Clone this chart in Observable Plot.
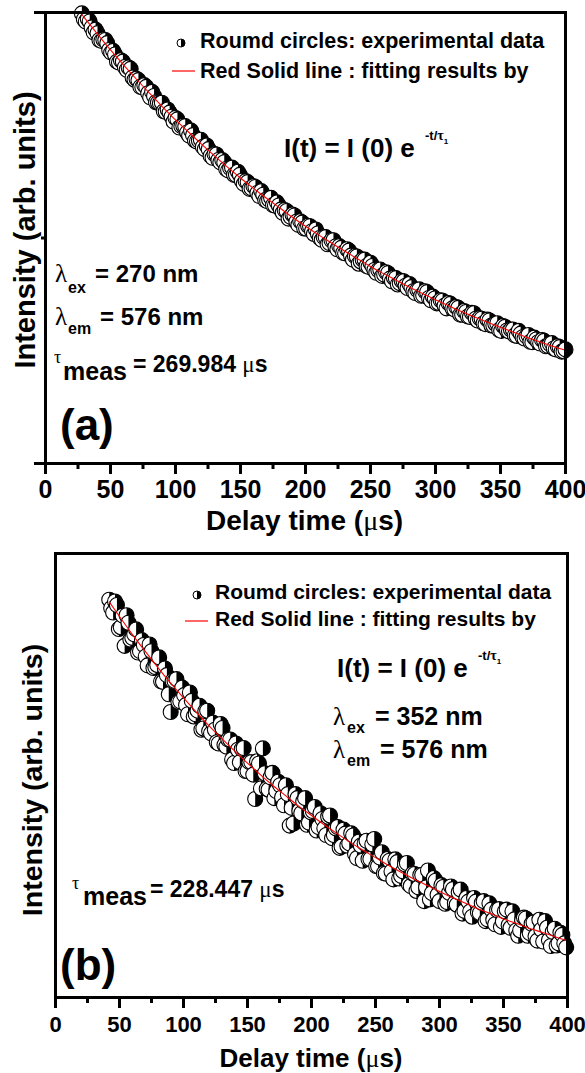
<!DOCTYPE html>
<html><head><meta charset="utf-8">
<script src="https://cdn.jsdelivr.net/npm/d3@7"></script>
<script src="https://cdn.jsdelivr.net/npm/@observablehq/plot@0.6"></script>
<style>
body{margin:0;background:#fff;}
#wrap{position:relative;width:585px;height:1073px;background:#fff;overflow:hidden;}
#wrap svg{position:absolute;left:0;}
</style></head><body><div id="wrap"></div>
<script>
// ---- data ----
const xTicks = [0,50,100,150,200,250,300,350,400];
const xMinor = [25,75,125,175,225,275,325,375];

// panel (a): delay time (µs) and intensity (arb. units, 0-1000)
const tA = [28,31,34,37,40,43,46,49,52,55,58,61,64,67,70,73,76,79,82,85,88,91,94,97,100,103,106,109,112,115,118,121,124,127,130,133,136,139,142,145,148,151,154,157,160,163,166,169,172,175,178,181,184,187,190,193,196,199,202,205,208,211,214,217,220,223,226,229,232,235,238,241,244,247,250,253,256,259,262,265,268,271,274,277,280,283,286,289,292,295,298,301,304,307,310,313,316,319,322,325,328,331,334,337,340,343,346,349,352,355,358,361,364,367,370,373,376,379,382,385,388,391,394,397,400];
const iA = [998,980,980,956,954,937,939,917,915,891,894,879,878,856,853,835,839,821,824,801,799,781,785,769,766,745,749,734,738,716,716,702,705,682,686,673,673,653,655,640,647,627,626,609,615,600,604,584,585,573,579,563,562,543,552,536,537,521,527,515,519,500,502,486,495,481,482,467,475,461,460,443,452,438,445,429,429,416,424,410,412,397,405,394,398,382,385,372,382,367,370,355,362,350,356,344,347,330,338,326,334,321,322,311,319,306,310,296,305,295,297,284,294,280,282,270,279,269,274,260,265,255,260,248,253];
// in-between readings of panel (a)
const tAmid = [29.5,32.5,35.5,38.5,41.5,44.5,47.5,50.5,53.5,56.5,59.5,62.5,65.5,68.5,71.5,74.5,77.5,80.5,83.5,86.5,89.5,92.5,95.5,98.5,101.5,104.5,107.5,110.5,113.5,116.5,119.5,122.5,125.5,128.5,131.5,134.5,137.5,140.5,143.5,146.5,149.5,152.5,155.5,158.5,161.5,164.5,167.5,170.5,173.5,176.5,179.5,182.5,185.5,188.5,191.5,194.5,197.5,200.5,203.5,206.5,209.5,212.5,215.5,218.5,221.5,224.5,227.5,230.5,233.5,236.5,239.5,242.5,245.5,248.5,251.5,254.5,257.5,260.5,263.5,266.5,269.5,272.5,275.5,278.5,281.5,284.5,287.5,290.5,293.5,296.5,299.5,302.5,305.5,308.5,311.5,314.5,317.5,320.5,323.5,326.5,329.5,332.5,335.5,338.5,341.5,344.5,347.5,350.5,353.5,356.5,359.5,362.5,365.5,368.5,371.5,374.5,377.5,380.5,383.5,386.5,389.5,392.5,395.5,398.5];
const iAmid = [985,986,967,962,939,940,932,911,907,889,891,873,875,851,850,834,835,812,815,800,800,780,778,758,763,748,748,727,728,714,718,697,697,678,685,668,668,650,656,640,640,620,624,610,613,593,596,582,589,572,572,556,560,547,550,529,534,521,526,509,510,496,502,489,495,475,478,466,472,452,459,448,452,436,438,423,430,419,422,404,411,400,404,389,391,378,386,373,380,362,366,356,361,344,354,342,345,330,336,325,333,317,321,309,317,306,311,294,303,293,297,283,288,277,285,269,275,266,272,261,267,253,258,249];
const tFitA = [28,30,40,50,60,70,80,90,100,110,120,130,140,150,160,170,180,190,200,210,220,230,240,250,260,270,280,290,300,310,320,330,340,350,360,370,380,390,400];
const fitA = [995,988,952,917,884,852,821,791,762,735,708,682,657,633,610,588,567,546,526,507,489,471,454,437,421,406,391,377,363,350,337,325,313,302,291,280,270,260,251];

// panel (b)
const tB = [42,45,48,51,54,57,60,63,66,69,72,75,78,81,84,87,90,93,96,99,102,105,108,111,114,117,120,123,126,129,132,135,138,141,144,147,150,153,156,159,162,165,168,171,174,177,180,183,186,189,192,195,198,201,204,207,210,213,216,219,222,225,228,231,234,237,240,243,246,249,252,255,258,261,264,267,270,273,276,279,282,285,288,291,294,297,300,303,306,309,312,315,318,321,324,327,330,333,336,339,342,345,348,351,354,357,360,363,366,369,372,375,378,381,384,387,390,393,396,399];
const iB = [896,867,884,834,792,844,810,829,780,794,748,780,744,766,711,726,643,713,666,698,659,687,633,646,603,645,600,619,575,616,569,581,536,572,530,562,510,530,447,527,561,470,496,449,486,451,478,387,392,449,415,449,394,420,376,415,381,407,359,381,337,378,342,370,323,351,308,353,312,357,296,327,279,308,266,305,274,300,255,279,240,276,217,286,235,263,217,249,215,250,213,237,189,224,194,224,192,213,172,212,175,197,159,194,163,194,151,151,180,139,166,138,175,126,157,116,155,122,141,113];
// in-between readings of panel (b)
const tBmid = [43.5,46.5,49.5,52.5,55.5,58.5,61.5,64.5,67.5,70.5,73.5,76.5,79.5,82.5,85.5,88.5,91.5,94.5,97.5,100.5,103.5,106.5,109.5,112.5,115.5,118.5,121.5,124.5,127.5,130.5,133.5,136.5,139.5,142.5,145.5,148.5,151.5,154.5,157.5,160.5,163.5,166.5,169.5,172.5,175.5,178.5,181.5,184.5,187.5,190.5,193.5,196.5,199.5,202.5,205.5,208.5,211.5,214.5,217.5,220.5,223.5,226.5,229.5,232.5,235.5,238.5,241.5,244.5,247.5,250.5,253.5,256.5,259.5,262.5,265.5,268.5,271.5,274.5,277.5,280.5,283.5,286.5,289.5,292.5,295.5,298.5,301.5,304.5,307.5,310.5,313.5,316.5,319.5,322.5,325.5,328.5,331.5,334.5,337.5,340.5,343.5,346.5,349.5,352.5,355.5,358.5,361.5,364.5,367.5,370.5,373.5,376.5,379.5,382.5,385.5,388.5,391.5,394.5,397.5];
const iBmid = [877,892,830,860,861,806,818,777,805,768,795,742,749,712,741,683,713,717,667,681,638,668,638,657,606,646,595,603,572,607,565,581,528,558,560,510,530,502,532,471,505,468,506,465,478,433,458,427,458,420,442,389,417,429,384,402,366,410,366,384,340,369,347,365,314,342,347,312,345,296,315,280,312,284,311,268,284,303,251,278,248,276,248,221,269,231,253,211,236,244,209,243,195,216,182,216,190,217,176,198,165,199,171,198,157,176,139,174,178,145,169,128,153,172,129,148,117,146,122];
const tFitB = [42,50,60,70,80,90,100,110,120,130,140,150,160,170,180,190,200,210,220,230,240,250,260,270,280,290,300,310,320,330,340,350,360,370,380,390,400];
const fitB = [891,858,818,780,743,708,675,643,612,583,555,528,502,477,454,431,410,389,369,350,332,315,298,282,267,253,239,225,213,200,189,177,167,156,147,137,128];

// ---- helpers ----
const SANS = "'Liberation Sans', Arial, sans-serif";
const SERIF = "'Liberation Serif', 'DejaVu Serif', serif";
const svgNS = "http://www.w3.org/2000/svg";

function addText(svg, x, y, spans, o = {}) {
  const t = d3.select(svg).append("text").attr("x", x).attr("y", y)
    .attr("font-family", o.family || SANS).attr("font-weight", o.weight || "bold")
    .attr("font-size", o.size || 20).attr("fill", "black")
    .attr("text-anchor", o.anchor || "start");
  if (o.rotate) t.attr("transform", `rotate(${o.rotate},${x},${y})`);
  for (const s of spans) {
    if (typeof s === "string") { t.append("tspan").text(s); continue; }
    const ts = t.append("tspan").text(s.t);
    if (s.family) ts.attr("font-family", s.family);
    if (s.weight) ts.attr("font-weight", s.weight);
    if (s.size) ts.attr("font-size", s.size);
    if (s.dy) ts.attr("dy", s.dy);
    if (s.dx) ts.attr("dx", s.dx);
  }
}
function halfCircle(svg, cx, cy, r) {
  const g = d3.select(svg).append("g");
  g.append("circle").attr("cx", cx).attr("cy", cy).attr("r", r).attr("fill", "white").attr("stroke", "black").attr("stroke-width", 1);
  g.append("path").attr("d", `M${cx},${cy - r}A${r},${r} 0 0,1 ${cx},${cy + r}Z`).attr("fill", "black");
}
function addHalves(svg, rDef) {
  d3.select(svg).selectAll('g[aria-label="dot"]').each(function () {
    Array.from(this.children).forEach(el => {
      let cx, cy, r = rDef;
      if (el.tagName === "circle") {
        cx = +el.getAttribute("cx"); cy = +el.getAttribute("cy");
        if (el.getAttribute("r")) r = +el.getAttribute("r");
        const tr = el.getAttribute("transform");
        if (tr) { const m = tr.match(/translate\(([-\d.]+)[ ,]+([-\d.]+)\)/); if (m) { cx = (cx || 0) + +m[1]; cy = (cy || 0) + +m[2]; } }
      } else {
        const m = (el.getAttribute("transform") || "").match(/translate\(([-\d.]+)[ ,]+([-\d.]+)\)/);
        if (!m) return; cx = +m[1]; cy = +m[2];
      }
      const p = document.createElementNS(svgNS, "path");
      p.setAttribute("d", `M${cx},${cy - r}A${r},${r} 0 0,1 ${cx},${cy + r}Z`);
      p.setAttribute("fill", "black");
      p.setAttribute("stroke", "none");
      el.after(p);
    });
  });
}

function panel(o) {
  const data = d3.sort(
    o.t.map((t, i) => ({t, v: o.v[i]})).concat(o.t2.map((t, i) => ({t, v: o.v2[i]}))),
    d => d.t);
  const fit = o.tf.map((t, i) => ({t, v: o.f[i]}));
  const marks = [
    Plot.axisX({ticks: xTicks, tickSize: 11, tickPadding: o.tickPad, fontSize: o.tickFont, fontWeight: "bold", strokeWidth: 3, label: null}),
    Plot.axisX({ticks: xMinor, tickSize: 6, tickFormat: () => "", strokeWidth: 3, label: null})
  ];
  if (o.yTicks) {
    marks.push(Plot.axisY({ticks: [0, 1000], tickSize: 11, tickFormat: () => "", strokeWidth: 3, label: null}));
    marks.push(Plot.axisY({ticks: [500], tickSize: 4, tickFormat: () => "", strokeWidth: 3, label: null}));
  }
  marks.push(
    Plot.dot(data, {x: "t", y: "v", r: o.r, fill: "white", stroke: "black", strokeWidth: 1.1}),
    Plot.line(fit, {x: "t", y: "v", stroke: "#ff0000", strokeWidth: 1.1, curve: "natural"}),
    Plot.frame({stroke: "black", strokeWidth: 3})
  );
  const svg = Plot.plot({
    width: 585, height: o.h,
    marginLeft: o.ml, marginRight: o.mr, marginTop: o.mt, marginBottom: o.mb,
    x: {domain: [0, 400], label: null},
    y: {domain: [0, 1000], label: null, axis: o.yTicks ? undefined : null},
    marks,
    style: {fontFamily: SANS, fontWeight: "bold", fontSize: o.tickFont + "px", color: "black", background: "white", overflow: "visible"}
  });
  addHalves(svg, o.r);
  return svg;
}

const wrap = document.getElementById("wrap");

// ---- panel (a) ----
const svgA = panel({t: tA, v: iA, t2: tAmid, v2: iAmid, tf: tFitA, f: fitA, r: 7.5, h: 545, ml: 45, mr: 20, mt: 12, mb: 82, tickPad: 6, tickFont: 25, yTicks: true});
svgA.style.top = "0px";
wrap.appendChild(svgA);
halfCircle(svgA, 181, 43, 4);
addText(svgA, 200, 48, ["Roumd circles: experimental data"], {size: 21.5});
d3.select(svgA).append("line").attr("x1", 172).attr("x2", 195).attr("y1", 71).attr("y2", 71).attr("stroke", "#ff0000").attr("stroke-width", 1.2);
addText(svgA, 200, 78, ["Red Solid line : fitting results by"], {size: 21.5});
addText(svgA, 284, 157, ["I(t) = I (0) e ", {t: "-t/", size: 13, dy: -17, dx: 3}, {t: "τ", family: SERIF, size: 14}, {t: "1", size: 8, dy: 4}], {size: 26});
addText(svgA, 55, 282, ["λ"], {family: SERIF, weight: "normal", size: 25});
addText(svgA, 68, 293, ["ex"], {size: 16});
addText(svgA, 95, 282, ["= 270 nm"], {size: 24});
addText(svgA, 55, 325, ["λ"], {family: SERIF, weight: "normal", size: 25});
addText(svgA, 68, 334, ["em"], {size: 16});
addText(svgA, 100, 325, ["= 576 nm"], {size: 24});
addText(svgA, 54, 363, ["τ"], {family: SERIF, weight: "normal", size: 18});
addText(svgA, 63, 380, ["meas"], {size: 25});
addText(svgA, 133, 372, ["= 269.984 ", {t: "μ", family: SERIF, weight: "normal"}, "s"], {size: 23});
addText(svgA, 60, 440, ["(a)"], {size: 44});
addText(svgA, 304.5, 530, ["Delay time (", {t: "μ", family: SERIF, weight: "normal"}, "s)"], {size: 28, anchor: "middle"});
addText(svgA, 35, 230, ["Intensity (arb. units)"], {size: 29, anchor: "middle", rotate: -90});

// ---- panel (b) ----
const OB = 545;
const svgB = panel({t: tB, v: iB, t2: tBmid, v2: iBmid, tf: tFitB, f: fitB, r: 7.5, h: 1073 - OB, ml: 55, mr: 18, mt: 553 - OB, mb: 1073 - 997, tickPad: 8, tickFont: 22, yTicks: false});
svgB.style.top = OB + "px";
wrap.appendChild(svgB);
halfCircle(svgB, 197, 595 - OB, 4);
addText(svgB, 215, 599 - OB, ["Roumd circles: experimental data"], {size: 21});
d3.select(svgB).append("line").attr("x1", 185).attr("x2", 208).attr("y1", 621 - OB).attr("y2", 621 - OB).attr("stroke", "#ff0000").attr("stroke-width", 1.2);
addText(svgB, 215, 626 - OB, ["Red Solid line : fitting results by"], {size: 21});
addText(svgB, 337, 677 - OB, ["I(t) = I (0) e ", {t: "-t/", size: 13, dy: -17, dx: 3}, {t: "τ", family: SERIF, size: 14}, {t: "1", size: 8, dy: 4}], {size: 26});
addText(svgB, 333, 725 - OB, ["λ"], {family: SERIF, weight: "normal", size: 25});
addText(svgB, 347, 733 - OB, ["ex"], {size: 16});
addText(svgB, 375, 725 - OB, ["= 352 nm"], {size: 25});
addText(svgB, 333, 758 - OB, ["λ"], {family: SERIF, weight: "normal", size: 25});
addText(svgB, 347, 766 - OB, ["em"], {size: 16});
addText(svgB, 380, 758 - OB, ["= 576 nm"], {size: 25});
addText(svgB, 72, 889 - OB, ["τ"], {family: SERIF, weight: "normal", size: 18});
addText(svgB, 83, 905 - OB, ["meas"], {size: 25});
addText(svgB, 150, 897 - OB, ["= 228.447 ", {t: "μ", family: SERIF, weight: "normal"}, "s"], {size: 23});
addText(svgB, 60, 980 - OB, ["(b)"], {size: 44});
addText(svgB, 311, 1067 - OB, ["Delay time (", {t: "μ", family: SERIF, weight: "normal"}, "s)"], {size: 26, anchor: "middle"});
addText(svgB, 42, 780 - OB, ["Intensity (arb. units)"], {size: 28.5, anchor: "middle", rotate: -90});
</script></body></html>
